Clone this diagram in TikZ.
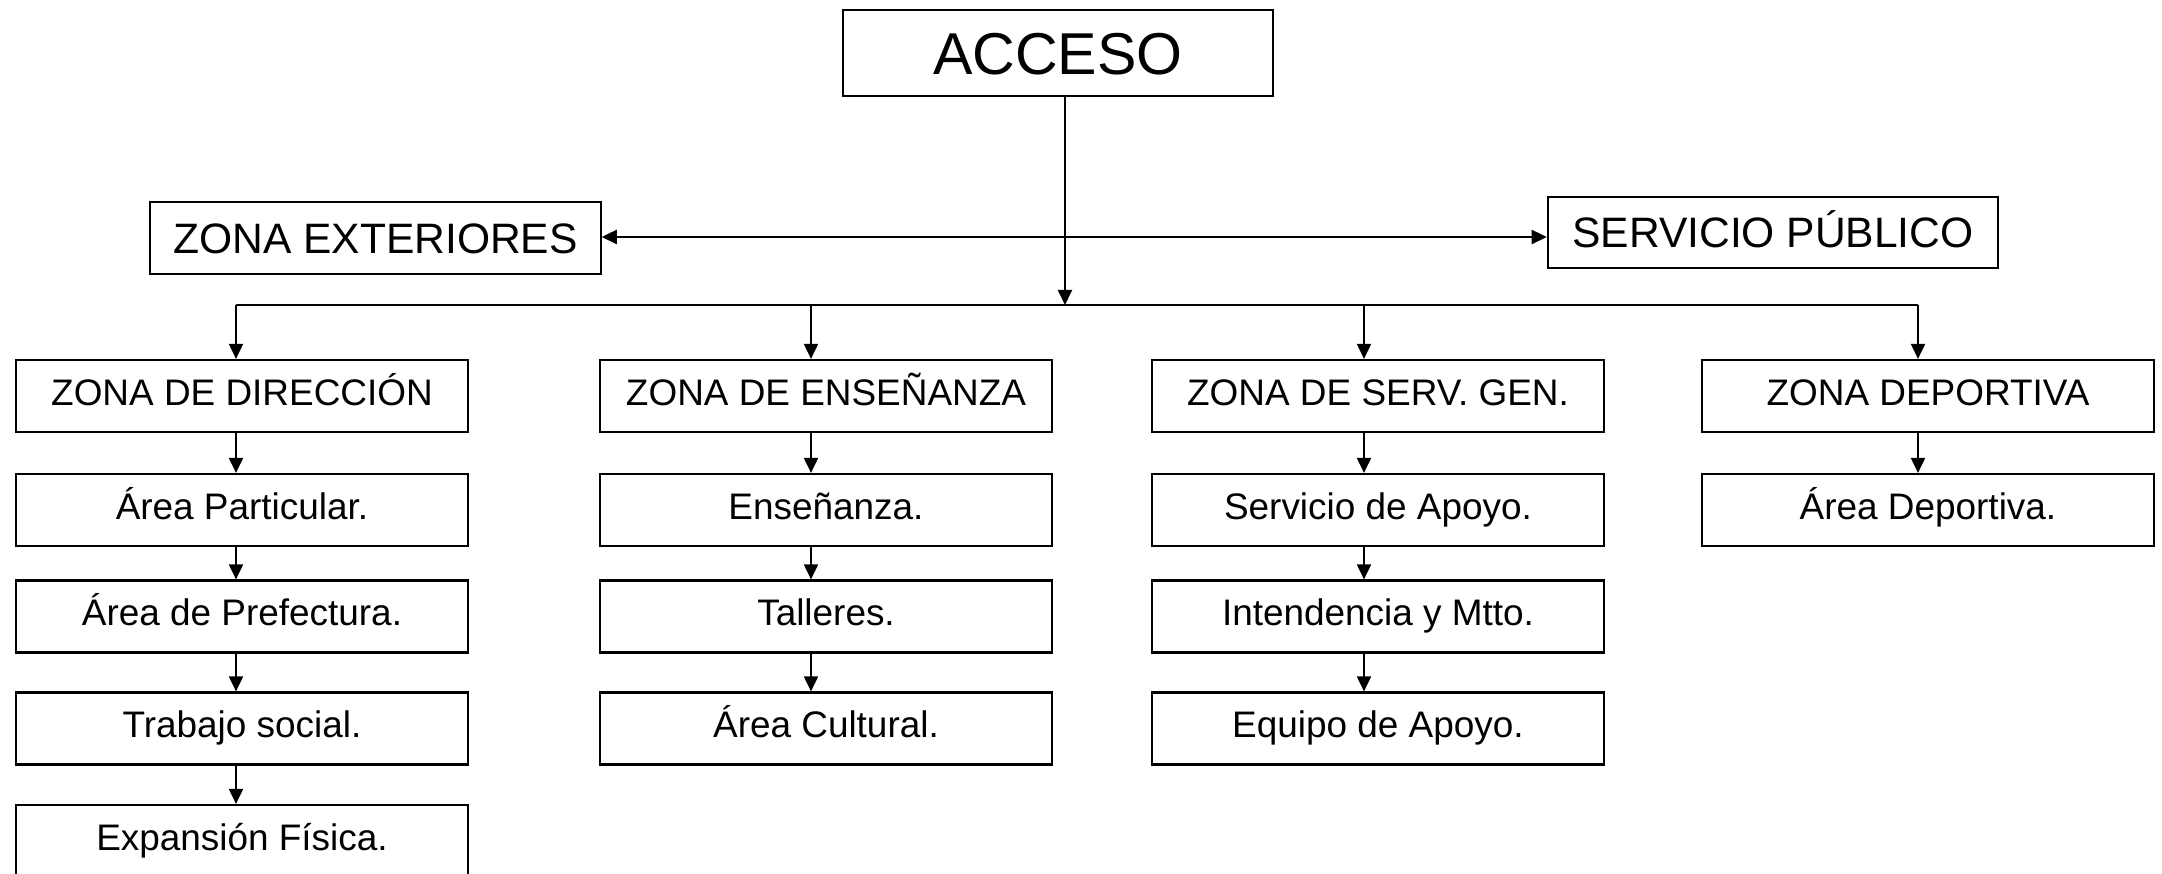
\documentclass[tikz,border=0pt]{standalone}
\usepackage{fontspec}
\setmainfont{Liberation Sans}
\usetikzlibrary{arrows.meta}

\begin{document}
\begin{tikzpicture}[x=.01cm,y=-.01cm,
  caja/.style={draw,line width=.6pt,inner sep=0pt,minimum width=4.51cm,minimum height=.72cm,
    text height=7.5pt,text depth=2.2pt,font=\fontsize{10.5}{12.6}\selectfont},
  zona/.style={caja,minimum width=4.5cm,text height=8.7pt,text depth=0pt,font=\fontsize{12.1}{14.5}\selectfont},
  flecha/.style={-{Triangle[length=4.3pt,width=4pt]},line width=.6pt}]
\useasboundingbox (0,0) rectangle (2162,874);
% acceso y zonas de arriba
\node[zona,minimum width=4.3cm,minimum height=.86cm,text height=12pt,font=\fontsize{16.8}{20}\selectfont] (acceso) at (1058,53) {ACCESO};
\node[zona] (exteriores) at (375.5,238) {ZONA EXTERIORES};
\node[zona,minimum height=.71cm] (publico) at (1773,232.5) {SERVICIO PÚBLICO};
\coordinate (bus) at (1065,305);
\draw[flecha] (acceso.south -| bus) -- (bus);
\draw[flecha,{Triangle[length=4.3pt,width=4pt]}-{Triangle[length=4.3pt,width=4pt]}] (exteriores.east |- 0,237) -- (publico.west |- 0,237);
% columnas
\coordinate (kdir) at (236,305);
\coordinate (kens) at (811,305);
\coordinate (kserv) at (1364,305);
\coordinate (kdep) at (1918,305);
\draw[line width=.6pt] (kdir) -- (kdep);
\node[caja] (dir0) at (242,396) {ZONA DE DIRECCIÓN};
\node[caja] (dir1) at (242,510) {Área Particular.};
\node[caja] (dir2) at (242,616.5) {Área de Prefectura.};
\node[caja] (dir3) at (242,728.5) {Trabajo social.};
\node[caja] (dir4) at (242,841) {Expansión Física.};
\node[caja] (ens0) at (826,396) {ZONA DE ENSEÑANZA};
\node[caja] (ens1) at (826,510) {Enseñanza.};
\node[caja] (ens2) at (826,616.5) {Talleres.};
\node[caja] (ens3) at (826,728.5) {Área Cultural.};
\node[caja] (serv0) at (1378,396) {ZONA DE SERV. GEN.};
\node[caja] (serv1) at (1378,510) {Servicio de Apoyo.};
\node[caja] (serv2) at (1378,616.5) {Intendencia y Mtto.};
\node[caja] (serv3) at (1378,728.5) {Equipo de Apoyo.};
\node[caja] (dep0) at (1928,396) {ZONA DEPORTIVA};
\node[caja] (dep1) at (1928,510) {Área Deportiva.};
\foreach \c in {dir,ens,serv,dep}
  \draw[flecha] (k\c) -- (k\c |- \c0.north);
\foreach \c/\n in {dir/4,ens/3,serv/3,dep/1}
  \foreach \i [remember=\i as \p (initially 0)] in {1,...,\n}
    \draw[flecha] (k\c |- \c\p.south) -- (k\c |- \c\i.north);
\end{tikzpicture}
\end{document}
